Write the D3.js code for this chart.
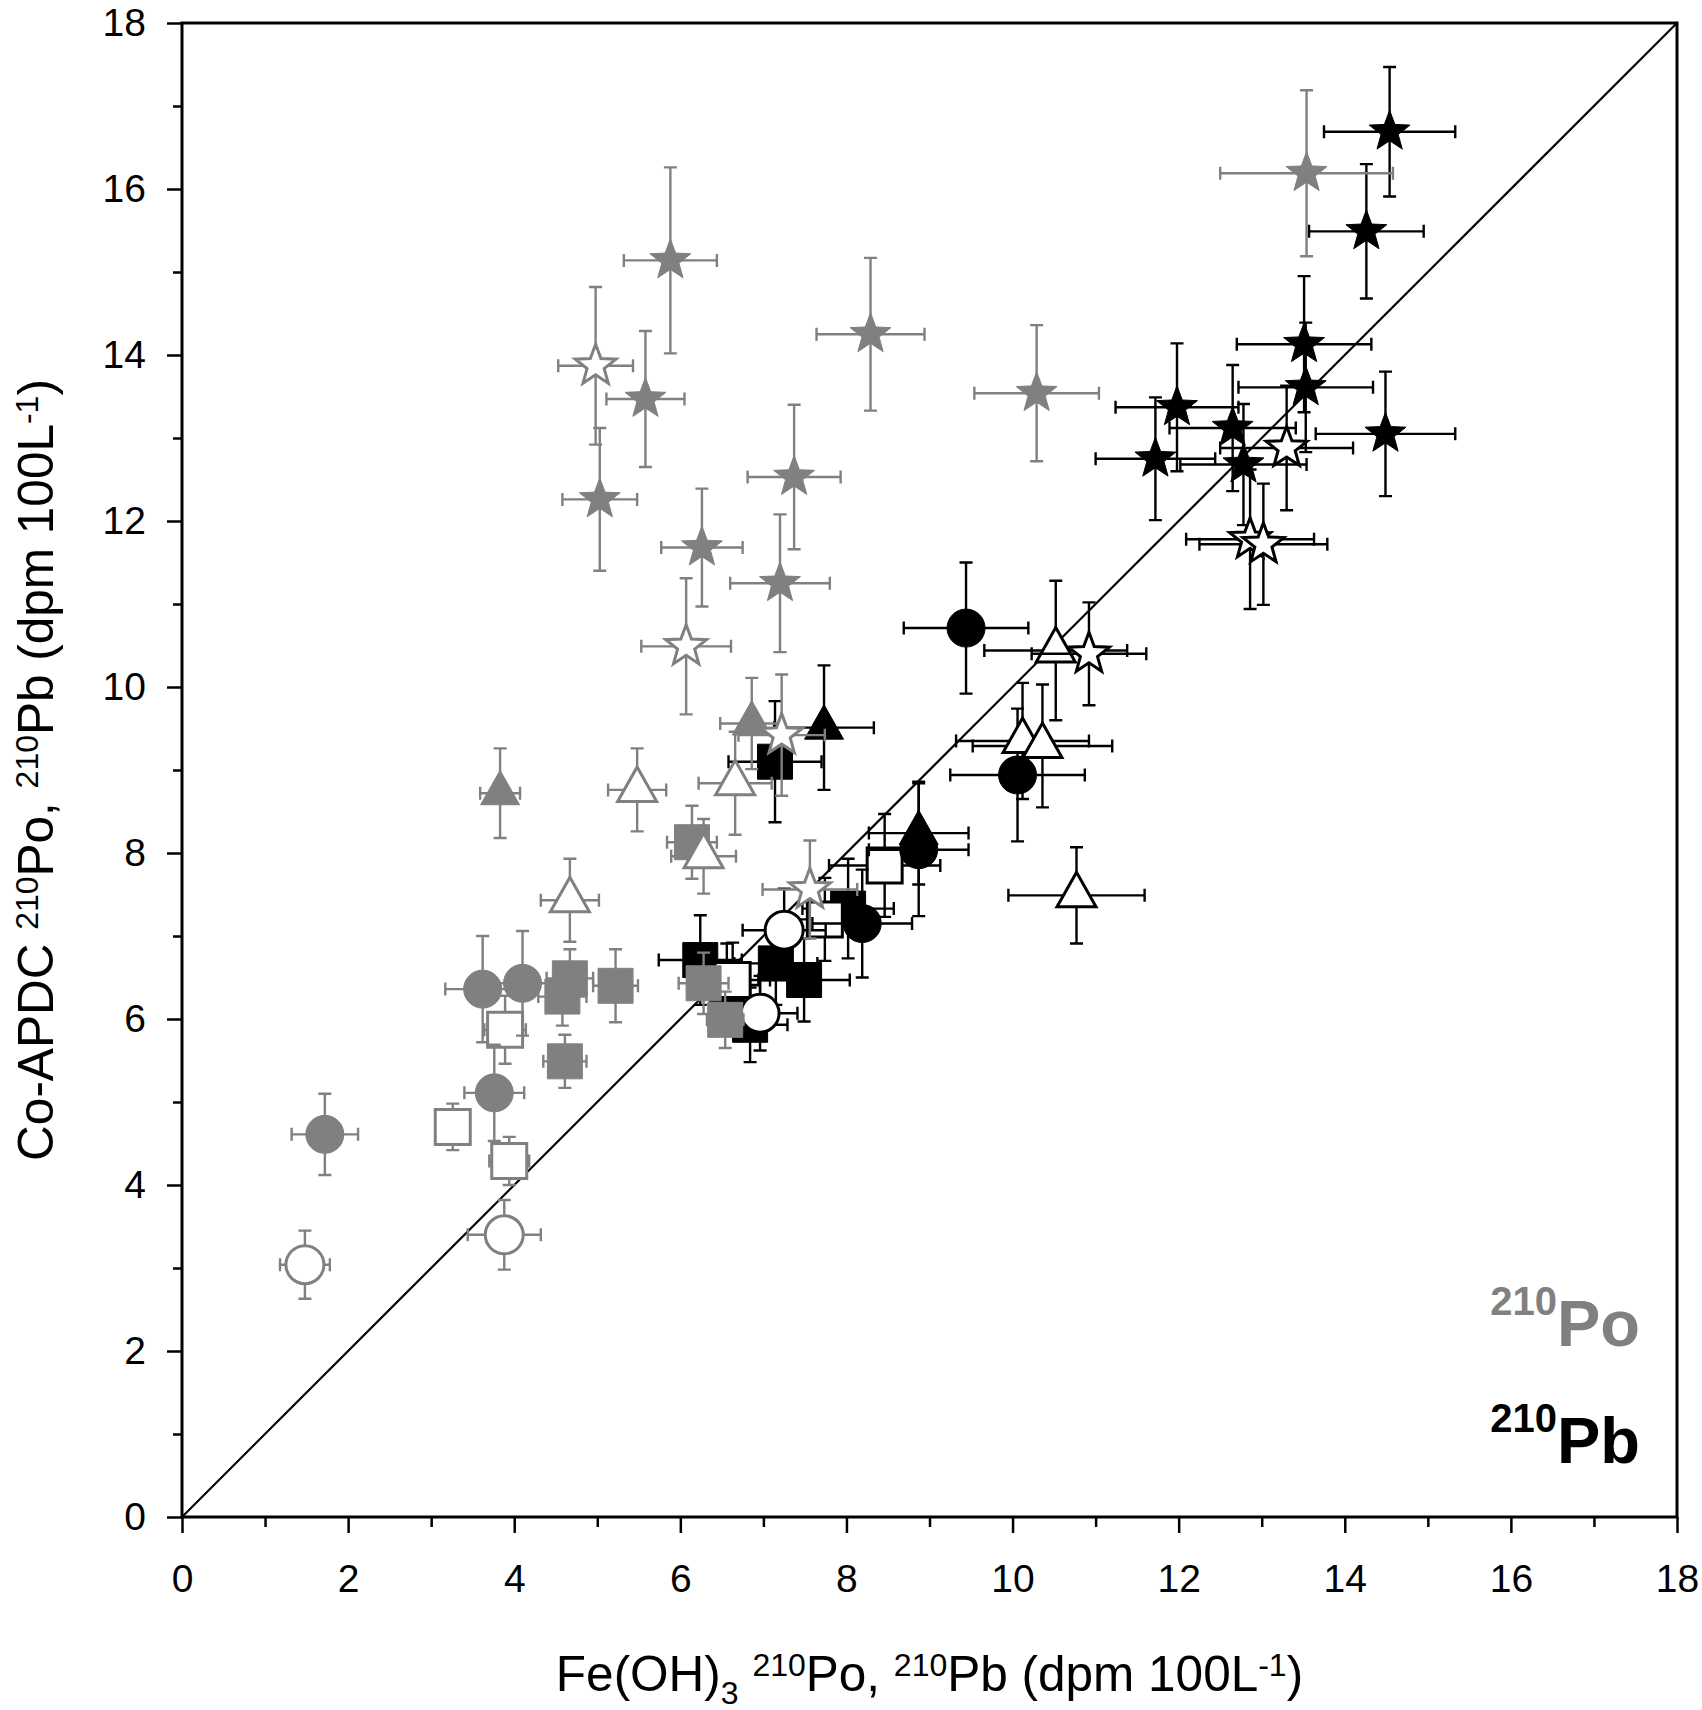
<!DOCTYPE html>
<html>
<head>
<meta charset="utf-8">
<script src="https://cdn.jsdelivr.net/npm/d3@7"></script>
<style>
  body { margin: 0; background: #fff; }
  svg { display: block; font-family: "Liberation Sans", Arial, sans-serif; }
</style>
</head>
<body>
<svg id="chart" width="1702" height="1710"></svg>
<script>
// each row: [x, y, xErr, yErr]  (dpm 100L-1)
// 210Pb series (black)
var pbFilledStar = [[14.54, 16.69, 0.79, 0.78], [14.26, 15.49, 0.69, 0.81], [13.51, 14.13, 0.81, 0.82],
                    [13.53, 13.61, 0.81, 0.78], [11.98, 13.37, 0.74, 0.77], [12.65, 13.12, 0.76, 0.76],
                    [11.72, 12.75, 0.72, 0.74], [12.78, 12.68, 0.76, 0.73], [14.49, 13.05, 0.84, 0.75]];
var pbOpenStar = [[13.30, 12.88, 0.80, 0.75], [12.86, 11.78, 0.77, 0.84], [13.02, 11.72, 0.77, 0.73],
                  [10.92, 10.40, 0.69, 0.62]];
var pbFilledTri = [[7.73, 9.51, 0.60, 0.75], [8.87, 8.24, 0.60, 0.62]];
var pbOpenTri = [[10.52, 10.44, 0.86, 0.84], [10.12, 9.35, 0.80, 0.70], [10.36, 9.29, 0.84, 0.74],
                 [10.77, 7.49, 0.82, 0.58]];
var pbFilledCircle = [[9.44, 10.71, 0.75, 0.79], [10.06, 8.94, 0.81, 0.80], [8.87, 8.04, 0.60, 0.80],
                      [8.19, 7.15, 0.60, 0.65]];
var pbOpenCircle = [[7.25, 7.07, 0.50, 0.50], [6.96, 6.07, 0.45, 0.45]];
var pbFilledSquare = [[7.14, 9.10, 0.56, 0.73], [8.02, 7.33, 0.55, 0.60], [6.24, 6.71, 0.50, 0.54],
                      [6.56, 6.41, 0.40, 0.50], [6.84, 5.93, 0.45, 0.45], [7.15, 6.67, 0.50, 0.50],
                      [7.49, 6.47, 0.55, 0.50]];
var pbOpenSquare = [[8.46, 7.85, 0.67, 0.62], [7.74, 7.20, 0.55, 0.50], [6.63, 6.47, 0.45, 0.45]];

// 210Po series (grey)
var poFilledStar = [[5.88, 15.14, 0.56, 1.12], [5.58, 13.47, 0.47, 0.82], [5.03, 12.26, 0.45, 0.86],
                    [7.37, 12.53, 0.56, 0.87], [6.26, 11.68, 0.49, 0.71], [7.20, 11.25, 0.60, 0.83],
                    [8.29, 14.25, 0.65, 0.92], [10.29, 13.54, 0.75, 0.82], [13.54, 16.19, 1.04, 1.00]];
var poOpenStar = [[4.98, 13.87, 0.45, 0.95], [6.07, 10.49, 0.54, 0.82], [7.22, 9.42, 0.52, 0.73],
                  [7.56, 7.56, 0.57, 0.59]];
var poFilledTri = [[3.83, 8.72, 0.24, 0.54], [6.86, 9.56, 0.38, 0.55]];
var poOpenTri = [[5.48, 8.76, 0.35, 0.50], [6.66, 8.84, 0.44, 0.62], [6.28, 7.96, 0.39, 0.45],
                 [4.67, 7.43, 0.35, 0.50]];
var poFilledSquare = [[6.14, 8.13, 0.30, 0.44], [4.67, 6.49, 0.28, 0.35], [4.58, 6.27, 0.29, 0.35],
                      [5.22, 6.40, 0.27, 0.44], [4.61, 5.49, 0.26, 0.32], [6.28, 6.43, 0.30, 0.37],
                      [6.54, 5.99, 0.22, 0.34]];
var poOpenSquare = [[3.89, 5.87, 0.25, 0.41], [3.26, 4.70, 0.20, 0.28], [3.94, 4.29, 0.24, 0.29]];
var poFilledCircle = [[3.62, 6.36, 0.45, 0.64], [4.10, 6.43, 0.40, 0.63], [3.76, 5.11, 0.36, 0.58],
                      [1.72, 4.61, 0.40, 0.49]];
var poOpenCircle = [[3.88, 3.40, 0.44, 0.42], [1.48, 3.04, 0.30, 0.41]];

var majorTicks = [0, 2, 4, 6, 8, 10, 12, 14, 16, 18];
var minorTicks = [1, 3, 5, 7, 9, 11, 13, 15, 17];

var GREY = '#808080';

// draw order: black first, grey on top
var series = [
  {data: pbFilledSquare, shape: 'square', color: '#000', filled: true},
  {data: pbOpenSquare, shape: 'square', color: '#000', filled: false},
  {data: pbFilledCircle, shape: 'circle', color: '#000', filled: true},
  {data: pbOpenCircle, shape: 'circle', color: '#000', filled: false},
  {data: pbFilledTri, shape: 'triangle', color: '#000', filled: true},
  {data: pbOpenTri, shape: 'triangle', color: '#000', filled: false},
  {data: pbFilledStar, shape: 'star', color: '#000', filled: true},
  {data: pbOpenStar, shape: 'star', color: '#000', filled: false},
  {data: poFilledSquare, shape: 'square', color: GREY, filled: true},
  {data: poOpenSquare, shape: 'square', color: GREY, filled: false},
  {data: poFilledCircle, shape: 'circle', color: GREY, filled: true},
  {data: poOpenCircle, shape: 'circle', color: GREY, filled: false},
  {data: poFilledTri, shape: 'triangle', color: GREY, filled: true},
  {data: poOpenTri, shape: 'triangle', color: GREY, filled: false},
  {data: poFilledStar, shape: 'star', color: GREY, filled: true},
  {data: poOpenStar, shape: 'star', color: GREY, filled: false}
];

var svg = d3.select('#chart');
var plotL = 182, plotR = 1677, plotT = 23, plotB = 1517;

var x = d3.scaleLinear().domain([0, 18]).range([plotL, plotR]);
var y = d3.scaleLinear().domain([0, 18]).range([plotB, plotT]);

function starPath(R, r){
  var pts = [];
  for (var i = 0; i < 10; i++){
    var a = -Math.PI / 2 + i * Math.PI / 5;
    var rad = (i % 2 == 0) ? R : r;
    pts.push([rad * Math.cos(a), rad * Math.sin(a)]);
  }
  return 'M' + pts.map(function(p){ return p[0].toFixed(2) + ',' + p[1].toFixed(2); }).join('L') + 'Z';
}

var shapes = {
  square: 'M-17.5,-17.5H17.5V17.5H-17.5Z',
  circle: 'M19,0A19,19 0 1,1 -19,0A19,19 0 1,1 19,0Z',
  triangle: 'M0,-23L19.5,11.5L-19.5,11.5Z',
  star: starPath(21.5, 9)
};

// axes (minor then major)
function yAxis(vals, size, labels){
  var a = d3.axisLeft(y).tickValues(vals).tickSize(size).tickPadding(21);
  if (!labels) a.tickFormat('');
  return a;
}
function xAxis(vals, size, labels){
  var a = d3.axisBottom(x).tickValues(vals).tickSize(size).tickPadding(31);
  if (!labels) a.tickFormat('');
  return a;
}

var axes = svg.append('g').attr('class', 'axes');
axes.append('g').attr('transform', 'translate(' + plotL + ',0)').call(yAxis(minorTicks, 9, false));
axes.append('g').attr('transform', 'translate(' + plotL + ',0)').call(yAxis(majorTicks, 15, true));
axes.append('g').attr('transform', 'translate(0,' + plotB + ')').call(xAxis(minorTicks, 10, false));
axes.append('g').attr('transform', 'translate(0,' + plotB + ')').call(xAxis(majorTicks, 16, true));
axes.selectAll('.domain').remove();
axes.selectAll('.tick text').filter(function(){ return this.textContent === ''; }).remove();
axes.selectAll('.tick line').attr('stroke', '#000').attr('stroke-width', 2.5);
axes.selectAll('.tick text').attr('font-size', 39).attr('fill', '#000')
    .attr('font-family', '"Liberation Sans", Arial, sans-serif');

// 1:1 line
svg.append('line')
   .attr('x1', x(0)).attr('y1', y(0))
   .attr('x2', x(18)).attr('y2', y(18))
   .attr('stroke', '#000').attr('stroke-width', 2.2);

// frame
svg.append('rect')
   .attr('x', plotL).attr('y', plotT)
   .attr('width', plotR - plotL).attr('height', plotB - plotT)
   .attr('fill', 'none').attr('stroke', '#000').attr('stroke-width', 3);

var cap = 6.5;
series.forEach(function(s){
  var g = svg.append('g');
  var eb = g.selectAll('g.err').data(s.data).enter().append('g')
            .attr('stroke', s.color).attr('stroke-width', 2.4).attr('fill', 'none');
  eb.append('path').attr('d', function(d){
    var cx = x(d[0]), cy = y(d[1]);
    var x0 = x(d[0] - d[2]), x1 = x(d[0] + d[2]);
    var y0 = y(d[1] - d[3]), y1 = y(d[1] + d[3]);
    return 'M' + x0 + ',' + cy + 'H' + x1 +
           'M' + x0 + ',' + (cy - cap) + 'V' + (cy + cap) +
           'M' + x1 + ',' + (cy - cap) + 'V' + (cy + cap) +
           'M' + cx + ',' + y0 + 'V' + y1 +
           'M' + (cx - cap) + ',' + y0 + 'H' + (cx + cap) +
           'M' + (cx - cap) + ',' + y1 + 'H' + (cx + cap);
  });
  g.selectAll('path.mk').data(s.data).enter().append('path')
   .attr('class', 'mk')
   .attr('d', shapes[s.shape])
   .attr('transform', function(d){ return 'translate(' + x(d[0]) + ',' + y(d[1]) + ')'; })
   .attr('fill', s.filled ? s.color : '#fff')
   .attr('stroke', s.color)
   .attr('stroke-width', s.filled ? 1 : 3)
   .attr('stroke-linejoin', 'miter');
});

// axis titles (superscripts / subscripts as tspans)
function titleParts(t, parts){
  var back = 0;
  parts.forEach(function(p){
    var off = p[0] == 'sup' ? -15 : (p[0] == 'sub' ? 13 : 0);
    var sp = t.append('tspan').text(p[1]).attr('dy', back + off);
    if (off) sp.attr('font-size', 32);
    back = -off;
  });
}

var xt = svg.append('text')
   .attr('x', (plotL + plotR) / 2).attr('y', 1691)
   .attr('text-anchor', 'middle').attr('font-size', 49.5).attr('fill', '#000');
titleParts(xt, [['n', 'Fe(OH)'], ['sub', '3'], ['n', '\u00A0'], ['sup', '210'], ['n', 'Po, '],
                ['sup', '210'], ['n', 'Pb (dpm 100L'], ['sup', '-1'], ['n', ')']]);

var yt = svg.append('text')
   .attr('transform', 'translate(53,' + (plotT + plotB) / 2 + ') rotate(-90)')
   .attr('text-anchor', 'middle').attr('font-size', 49.5).attr('fill', '#000');
titleParts(yt, [['n', 'Co-APDC '], ['sup', '210'], ['n', 'Po, '],
                ['sup', '210'], ['n', 'Pb (dpm 100L'], ['sup', '-1'], ['n', ')']]);

// isotope labels
var labels = [{sup: '210', main: 'Po', color: GREY, yb: 1346},
              {sup: '210', main: 'Pb', color: '#000', yb: 1463}];
labels.forEach(function(l){
  var t = svg.append('text')
     .attr('x', 1640).attr('y', l.yb)
     .attr('text-anchor', 'end').attr('font-weight', 'bold')
     .attr('fill', l.color).attr('font-size', 65);
  t.append('tspan').attr('font-size', 40).attr('dy', -31).text(l.sup);
  t.append('tspan').attr('dy', 31).text(l.main);
});
</script>
</body>
</html>
